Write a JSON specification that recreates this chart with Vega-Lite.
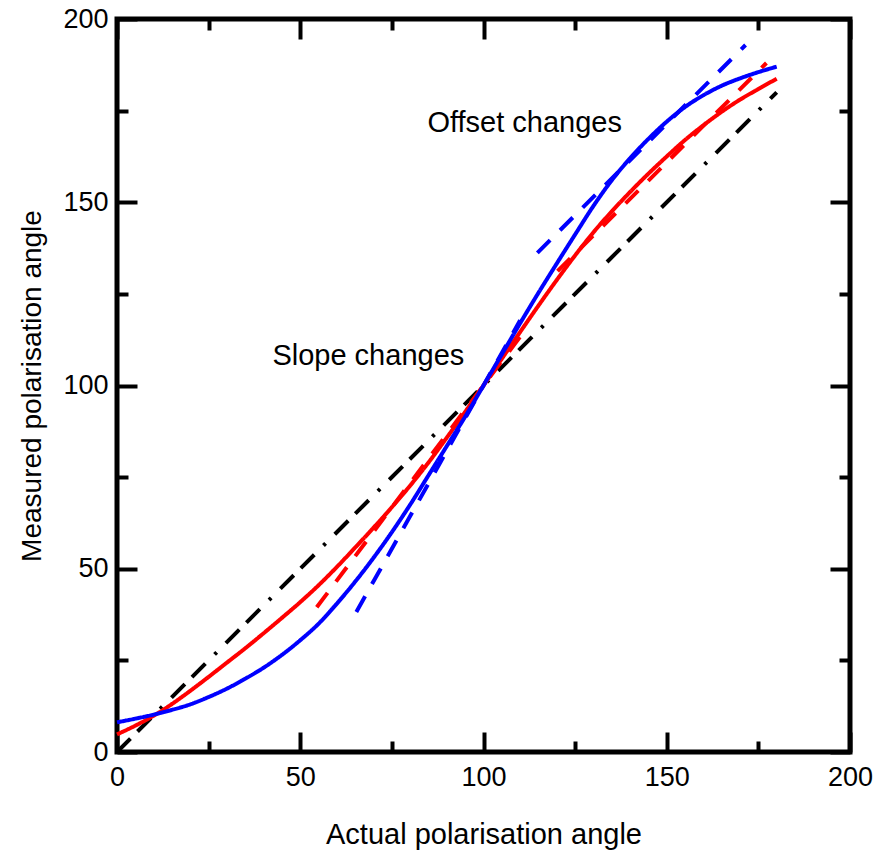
{
  "$schema": "https://vega.github.io/schema/vega-lite/v6.json",
  "width": 733,
  "height": 733,
  "autosize": {"type": "none"},
  "padding": {"left": 117, "top": 19, "right": 34, "bottom": 104},
  "background": "white",
  "config": {
    "view": {"stroke": "black", "strokeWidth": 5},
    "font": "Liberation Sans"
  },
  "layer": [
    {
      "data": {
        "values": [
          {"s": "ref", "x": 0, "y": 0},
          {"s": "ref", "x": 180, "y": 180},
          {"s": "redSlope", "x": 54.5, "y": 39.5},
          {"s": "redSlope", "x": 110, "y": 113.3},
          {"s": "redOffset", "x": 120.2, "y": 131.2},
          {"s": "redOffset", "x": 177.2, "y": 188.0},
          {"s": "blueSlope", "x": 65.3, "y": 38.2},
          {"s": "blueSlope", "x": 110, "y": 117.8},
          {"s": "blueOffset", "x": 114.7, "y": 136.2},
          {"s": "blueOffset", "x": 171.5, "y": 192.9},
          {"s": "red", "x": 0, "y": 4.8},
          {"s": "red", "x": 5, "y": 7.2},
          {"s": "red", "x": 10, "y": 9.9},
          {"s": "red", "x": 15, "y": 13.1},
          {"s": "red", "x": 20, "y": 16.7},
          {"s": "red", "x": 25, "y": 20.5},
          {"s": "red", "x": 30, "y": 24.4},
          {"s": "red", "x": 35, "y": 28.3},
          {"s": "red", "x": 40, "y": 32.4},
          {"s": "red", "x": 45, "y": 36.6},
          {"s": "red", "x": 50, "y": 40.9},
          {"s": "red", "x": 55, "y": 45.5},
          {"s": "red", "x": 60, "y": 50.5},
          {"s": "red", "x": 65, "y": 55.8},
          {"s": "red", "x": 70, "y": 61.2},
          {"s": "red", "x": 75, "y": 66.8},
          {"s": "red", "x": 80, "y": 72.7},
          {"s": "red", "x": 85, "y": 79},
          {"s": "red", "x": 90, "y": 85.8},
          {"s": "red", "x": 95, "y": 92.8},
          {"s": "red", "x": 100, "y": 100},
          {"s": "red", "x": 105, "y": 107.3},
          {"s": "red", "x": 110, "y": 114.6},
          {"s": "red", "x": 115, "y": 121.8},
          {"s": "red", "x": 120, "y": 128.8},
          {"s": "red", "x": 125, "y": 135.5},
          {"s": "red", "x": 130, "y": 141.8},
          {"s": "red", "x": 135, "y": 147.5},
          {"s": "red", "x": 140, "y": 152.8},
          {"s": "red", "x": 145, "y": 157.8},
          {"s": "red", "x": 150, "y": 162.5},
          {"s": "red", "x": 155, "y": 167},
          {"s": "red", "x": 160, "y": 171},
          {"s": "red", "x": 165, "y": 174.7},
          {"s": "red", "x": 170, "y": 178},
          {"s": "red", "x": 175, "y": 180.9},
          {"s": "red", "x": 180, "y": 183.7},
          {"s": "blue", "x": 0, "y": 8.1},
          {"s": "blue", "x": 5, "y": 9.1},
          {"s": "blue", "x": 10, "y": 10.2},
          {"s": "blue", "x": 15, "y": 11.5},
          {"s": "blue", "x": 20, "y": 13},
          {"s": "blue", "x": 25, "y": 15},
          {"s": "blue", "x": 30, "y": 17.3},
          {"s": "blue", "x": 35, "y": 20},
          {"s": "blue", "x": 40, "y": 23},
          {"s": "blue", "x": 45, "y": 26.5},
          {"s": "blue", "x": 50, "y": 30.5},
          {"s": "blue", "x": 55, "y": 35},
          {"s": "blue", "x": 60, "y": 40.5},
          {"s": "blue", "x": 65, "y": 46.5},
          {"s": "blue", "x": 70, "y": 53},
          {"s": "blue", "x": 75, "y": 60},
          {"s": "blue", "x": 80, "y": 67.5},
          {"s": "blue", "x": 85, "y": 75.5},
          {"s": "blue", "x": 90, "y": 83.5},
          {"s": "blue", "x": 95, "y": 91.5},
          {"s": "blue", "x": 100, "y": 100},
          {"s": "blue", "x": 105, "y": 108.5},
          {"s": "blue", "x": 110, "y": 117},
          {"s": "blue", "x": 115, "y": 125.3},
          {"s": "blue", "x": 120, "y": 133.3},
          {"s": "blue", "x": 125, "y": 141.2},
          {"s": "blue", "x": 130, "y": 149},
          {"s": "blue", "x": 135, "y": 156},
          {"s": "blue", "x": 140, "y": 162},
          {"s": "blue", "x": 145, "y": 167.3},
          {"s": "blue", "x": 150, "y": 172},
          {"s": "blue", "x": 155, "y": 176},
          {"s": "blue", "x": 160, "y": 179.2},
          {"s": "blue", "x": 165, "y": 181.8},
          {"s": "blue", "x": 170, "y": 183.8},
          {"s": "blue", "x": 175, "y": 185.5},
          {"s": "blue", "x": 180, "y": 187}
        ]
      },
      "mark": {"type": "line", "strokeWidth": 4, "strokeCap": "butt", "interpolate": "monotone"},
      "encoding": {
        "x": {
          "field": "x", "type": "quantitative",
          "scale": {"domain": [0, 200], "nice": false, "zero": false},
          "axis": {
            "orient": "bottom",
            "values": [0, 25, 50, 75, 100, 125, 150, 175, 200],
            "domain": false,
            "grid": false,
            "tickColor": "black",
            "tickWidth": 4,
            "tickCap": "butt",
            "tickSize": {"condition": {"test": "datum.value % 50 === 0", "value": -20}, "value": -11},
            "labelExpr": "datum.value % 50 === 0 ? datum.label : ''",
            "labelFont": "Liberation Sans",
            "labelFontSize": 27,
            "labelColor": "black",
            "labelPadding": 32,
            "labelFlush": false,
            "labelOverlap": false,
            "title": "Actual polarisation angle",
            "titleFont": "Liberation Sans",
            "titleFontSize": 29,
            "titleFontWeight": "normal",
            "titleColor": "black",
            "titlePadding": 21
          }
        },
        "y": {
          "field": "y", "type": "quantitative",
          "scale": {"domain": [0, 200], "nice": false, "zero": false},
          "axis": {
            "orient": "left",
            "values": [0, 25, 50, 75, 100, 125, 150, 175, 200],
            "domain": false,
            "grid": false,
            "tickColor": "black",
            "tickWidth": 4,
            "tickCap": "butt",
            "tickSize": {"condition": {"test": "datum.value % 50 === 0", "value": -20}, "value": -11},
            "labelExpr": "datum.value % 50 === 0 ? datum.label : ''",
            "labelFont": "Liberation Sans",
            "labelFontSize": 27,
            "labelColor": "black",
            "labelPadding": 29,
            "labelFlush": false,
            "labelOverlap": false,
            "title": "Measured polarisation angle",
            "titleFont": "Liberation Sans",
            "titleFontSize": 28,
            "titleFontWeight": "normal",
            "titleColor": "black",
            "titlePadding": 16
          }
        },
        "detail": {"field": "s"},
        "color": {
          "field": "s", "type": "nominal", "legend": null,
          "scale": {
            "domain": ["ref", "redSlope", "redOffset", "blueSlope", "blueOffset", "red", "blue"],
            "range": ["#000000", "#ff0000", "#ff0000", "#0000ff", "#0000ff", "#ff0000", "#0000ff"]
          }
        },
        "strokeDash": {
          "field": "s", "type": "nominal", "legend": null,
          "scale": {
            "domain": ["ref", "redSlope", "redOffset", "blueSlope", "blueOffset", "red", "blue"],
            "range": [[19, 10, 19, 13, 3, 13], [18, 14], [18, 14], [18, 14], [18, 14], [1, 0], [1, 0]]
          }
        }
      }
    },
    {
      "data": {
        "values": [
          {"label": "Offset changes", "x": 84.7, "y": 169.2},
          {"label": "Slope changes", "x": 42.4, "y": 105.7}
        ]
      },
      "mark": {"type": "text", "align": "left", "baseline": "alphabetic", "font": "Liberation Sans", "fontSize": 29, "color": "black"},
      "encoding": {
        "text": {"field": "label"},
        "x": {
          "field": "x", "type": "quantitative",
          "scale": {"domain": [0, 200], "nice": false, "zero": false},
          "axis": {
            "orient": "top",
            "values": [0, 25, 50, 75, 100, 125, 150, 175, 200],
            "domain": false, "grid": false, "labels": false, "title": null,
            "tickColor": "black", "tickWidth": 4, "tickCap": "butt",
            "tickSize": {"condition": {"test": "datum.value % 50 === 0", "value": -20}, "value": -11}
          }
        },
        "y": {
          "field": "y", "type": "quantitative",
          "scale": {"domain": [0, 200], "nice": false, "zero": false},
          "axis": {
            "orient": "right",
            "values": [0, 25, 50, 75, 100, 125, 150, 175, 200],
            "domain": false, "grid": false, "labels": false, "title": null,
            "tickColor": "black", "tickWidth": 4, "tickCap": "butt",
            "tickSize": {"condition": {"test": "datum.value % 50 === 0", "value": -20}, "value": -11}
          }
        }
      }
    }
  ],
  "resolve": {"axis": {"x": "independent", "y": "independent"}}
}
